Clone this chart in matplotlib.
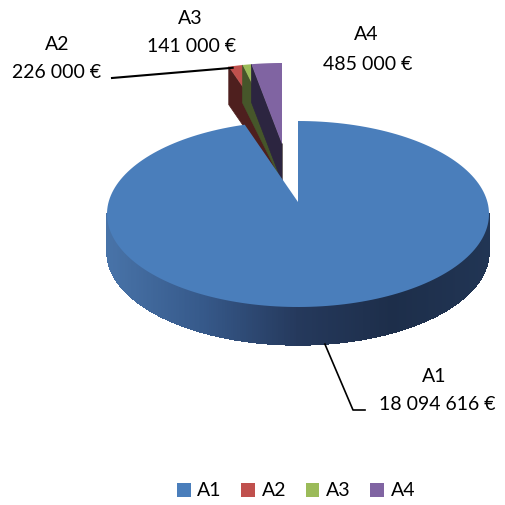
import numpy as np
import matplotlib
matplotlib.use("Agg")
import matplotlib.pyplot as plt
from matplotlib.patches import Polygon, Patch
from matplotlib.collections import PolyCollection
from matplotlib.colors import LinearSegmentedColormap

plt.rcParams["font.family"] = ["Lato", "DejaVu Sans"]

# data
labels = ["A1", "A2", "A3", "A4"]
values = [18094616, 226000, 141000, 485000]
value_texts = ["18 094 616 €", "226 000 €", "141 000 €", "485 000 €"]
pulled_out = [False, True, True, True]

top_colors = ["#4a7ebb", "#c0504d", "#9bbb59", "#8064a2"]
side_colors = ["#2f4f78", "#4e1f1e", "#46562a", "#2c2540"]

# layout, in pixels (y grows downwards)
W, H = 506, 505
cx, cy = 298, 214          # centre of the rim ellipse
rx, ry = 191, 93
apex_lift = 12             # perspective: apex sits above the ellipse centre
depth = 38
pull = (-16, -58)          # shift of the pulled-out slices


def rim(theta, dx=0, dy=0):
    # theta in degrees, clockwise from 12 o'clock
    t = np.radians(theta)
    return np.column_stack([cx + dx + rx * np.sin(t), cy + dy - ry * np.cos(t)])


fig = plt.figure(figsize=(W / 100, H / 100), dpi=100)
ax = fig.add_axes([0, 0, 1, 1])
ax.set_xlim(0, W)
ax.set_ylim(H, 0)
ax.axis("off")

fracs = np.array(values) / np.sum(values)
starts = np.concatenate([[0], np.cumsum(fracs)[:-1]]) * 360
ends = np.cumsum(fracs) * 360

slices = []
for i in range(len(values)):
    dx, dy = pull if pulled_out[i] else (0, 0)
    apex = np.array([cx + dx, cy + dy - apex_lift])
    arc = rim(np.linspace(starts[i], ends[i], 200), dx, dy)
    slices.append((apex, arc, dx, dy))

# pulled-out slices first (they sit behind the big one)
for i in [1, 2, 3]:
    apex, arc, dx, dy = slices[i]
    p0 = arc[0]
    face = np.array([apex, p0, p0 + [0, depth], apex + [0, depth]])
    ax.add_patch(Polygon(face, closed=True, facecolor=side_colors[i],
                         edgecolor=side_colors[i], lw=0.5))
    ax.add_patch(Polygon(np.vstack([apex, arc]), closed=True,
                         facecolor=top_colors[i], edgecolor="none"))

# A1 front side with a horizontal shading
apex, arc, dx, dy = slices[0]
th = np.linspace(max(starts[0], 90), min(ends[0], 270), 300)
pts = rim(th)
outline = np.vstack([pts, pts[::-1] + [0, depth]])
ax.add_patch(Polygon(outline, closed=True, facecolor="#2f4f78",
                     edgecolor="#2f4f78", lw=0.4))
quads = []
for a, b in zip(pts[:-1], pts[1:]):
    quads.append([a, b, b + [0, depth], a + [0, depth]])
side_cmap = LinearSegmentedColormap.from_list(
    "side", ["#4873a8", "#36598a", "#25395c", "#1d2e4a", "#213554"])
xs = (pts[:-1, 0] - (cx - rx)) / (2 * rx)
cols = side_cmap(xs)
ax.add_collection(PolyCollection(quads, facecolors=cols, edgecolors=cols,
                                 lw=0.3, antialiaseds=False))
ax.add_patch(Polygon(np.vstack([apex, arc]), closed=True,
                     facecolor=top_colors[0], edgecolor="none"))

# labels
txt = dict(fontsize=14, ha="center", va="center", color="black")
ax.text(57, 44, labels[1], **txt)
ax.text(57, 73, value_texts[1], **txt)
ax.text(190, 18, labels[2], **txt)
ax.text(192, 47, value_texts[2], **txt)
ax.text(366, 35, labels[3], **txt)
ax.text(368, 65, value_texts[3], **txt)
ax.text(434, 376, labels[0], **txt)
ax.text(437, 405, value_texts[0], **txt)

# leader lines
mid2 = (starts[1] + ends[1]) / 2
a2 = rim(np.array([mid2]), *pull)[0]
ax.plot([112, a2[0] - 3], [78, a2[1] + 2], color="black", lw=1.5)
mid1 = (starts[0] + ends[0]) / 2
a1 = rim(np.array([mid1]))[0] + [0, depth]
ax.plot([a1[0], 353, 365], [a1[1], 410, 410], color="black", lw=1.2)

handles = [Patch(facecolor=c, edgecolor="none", label=l)
           for c, l in zip(top_colors, labels)]
ax.legend(handles=handles, ncol=4, loc="center", bbox_to_anchor=(296 / W, 1 - 491 / H),
          frameon=False, fontsize=14, handlelength=0.7, handleheight=0.7,
          handletextpad=0.35, columnspacing=1.0)

fig.savefig("out.png", dpi=100)
